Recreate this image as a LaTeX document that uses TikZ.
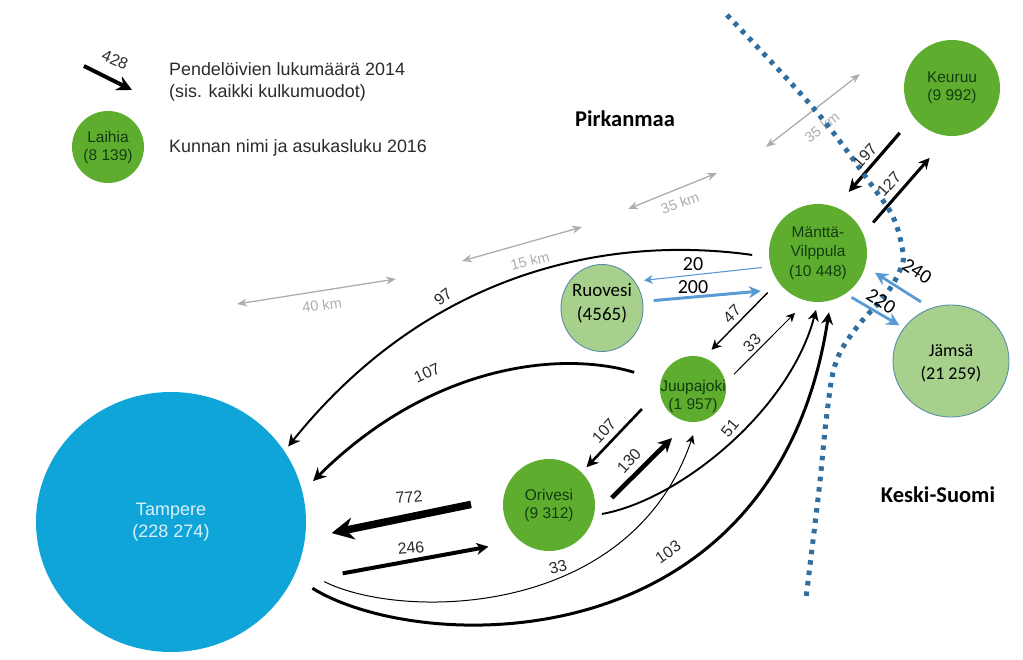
\documentclass[tikz,border=0pt]{standalone}
\usepackage{fontspec}
\setmainfont{Liberation Sans}
\newfontfamily\calibrifont{Carlito}
\usetikzlibrary{arrows.meta,shapes.geometric}
\definecolor{towngreen}{HTML}{5FAD2E}
\definecolor{palegreen}{HTML}{A6D08C}
\definecolor{paleedge}{HTML}{5A8CA8}
\definecolor{bigblue}{HTML}{0FA5D8}
\definecolor{darktext}{HTML}{123C12}
\definecolor{flowblue}{HTML}{5B9BD5}
\definecolor{borderblue}{HTML}{2F6E9E}
\definecolor{distgray}{HTML}{ADADAD}
\definecolor{labelgray}{HTML}{2B2B2B}
\tikzset{
  town/.style={circle,fill=towngreen,inner sep=0pt,text=darktext,align=center,font=\fontsize{15.5}{18}\selectfont},
  towntext/.style={align=center,text=darktext,inner sep=0pt,font=\fontsize{15.5}{18}\selectfont},
  paletown/.style={ellipse,fill=palegreen,draw=paleedge,line width=0.9pt,inner sep=0pt},
  paletext/.style={align=center,text=black,inner sep=0pt},
  flow/.style={black,line cap=butt},
  flowb/.style={flowblue},
  lab/.style={font=\fontsize{16}{18}\selectfont,text=labelgray,inner sep=0pt},
  labb/.style={font=\calibrifont\fontsize{20}{22}\selectfont,text=black,inner sep=0pt},
  dist/.style={draw=distgray,line width=1.3pt,{Stealth[length=10pt,width=8pt]}-{Stealth[length=10pt,width=8pt]}},
  distlab/.style={font=\fontsize{14.5}{16}\selectfont,text=distgray,inner sep=0pt},
  legendtext/.style={anchor=west,font=\fontsize{17.9}{22}\selectfont,text=labelgray,inner sep=0pt,align=left},
  region/.style={font=\calibrifont\bfseries\fontsize{22.5}{26}\selectfont,text=black,inner sep=0pt},
  tip/.style={-{Stealth[length=#1,width=#1]}}
}
\begin{document}
\begin{tikzpicture}[x=1pt,y=-1pt]
\useasboundingbox (0,0) rectangle (1023,660);
% towns
\node[ellipse,fill=bigblue,minimum width=270pt,minimum height=260pt,inner sep=0pt,text=white!85!bigblue,align=center,font=\fontsize{18}{22}\selectfont] (tampere) at (171,522) {Tampere\\(228 274)};
\node[town,minimum size=92pt] (orivesi) at (549,505) {Orivesi\\(9 312)};
\node[town,minimum size=66pt,label={[towntext,yshift=-7pt]center:{Juupajoki\\(1 957)}}] (juupajoki) at (693,389) {};
\node[town,minimum size=98pt,font=\fontsize{15.5}{19.5}\selectfont] (mantta) at (818,253) {Mänttä-\\Vilppula\\(10 448)};
\node[town,minimum size=96pt] (keuruu) at (952,88) {Keuruu\\(9 992)};
\node[town,minimum size=72pt] (laihia) at (108,147) {Laihia\\(8 139)};
\node[paletown,minimum width=82pt,minimum height=87pt,label={[paletext,yshift=5pt,font=\calibrifont\fontsize{19}{24}\selectfont]center:{Ruovesi\\(4565)}}] (ruovesi) at (602,308) {};
\node[paletown,minimum width=116pt,minimum height=112pt,label={[paletext,yshift=-2pt,font=\calibrifont\fontsize{18}{23}\selectfont]center:{Jämsä\\(21 259)}}] (jamsa) at (951,361) {};
% legend
\coordinate (legA) at (84,66);
\coordinate (legB) at (132,90);
\draw[flow,line width=4pt,tip=15pt] (legA) -- (legB);
\node[lab,rotate=-23] (l428) at (115,60) {428};
\node[legendtext] (legend1) at (169,82) {Pendelöivien lukumäärä 2014\\(sis. kaikki kulkumuodot)};
\node[legendtext] (legend2) at (169,148) {Kunnan nimi ja asukasluku 2016};
% regions
\node[region] (pirkanmaa) at (625,119) {Pirkanmaa};
\node[region] (keskisuomi) at (938,495) {Keski-Suomi};
% distance arrows
\coordinate (d1a) at (237,304); \coordinate (d1b) at (396,279);
\coordinate (d2a) at (462,261); \coordinate (d2b) at (582,227);
\coordinate (d3a) at (628,209); \coordinate (d3b) at (717,173);
\coordinate (d4a) at (766,147); \coordinate (d4b) at (860,74);
\draw[dist] (d1a) -- (d1b);
\draw[dist] (d2a) -- (d2b);
\draw[dist] (d3a) -- (d3b);
\draw[dist] (d4a) -- (d4b);
\node[distlab,rotate=8] (km40) at (322,305) {40 km};
\node[distlab,rotate=14] (km15) at (530,261) {15 km};
\node[distlab,rotate=20] (km35a) at (680,203) {35 km};
\node[distlab,rotate=38] (km35b) at (822,127) {35 km};
% straight flows
\draw[flow,line width=3.2pt,tip=13pt,shorten <=21pt,shorten >=20pt] (keuruu.217) -- (mantta.69);
\draw[flow,line width=3pt,tip=11pt,shorten <=15pt,shorten >=29pt] (mantta.23.5) -- (keuruu.266);
\draw[flow,line width=1.4pt,tip=10pt,shorten <=15pt,shorten >=11pt] (mantta.216.7) -- (juupajoki.71.7);
\draw[flow,line width=1pt,tip=9pt,shorten <=12pt,shorten >=17pt] (juupajoki.11.2) -- (mantta.257.3);
\draw[flow,line width=2.6pt,tip=12pt,shorten <=26pt,shorten >=7pt] (juupajoki.182) -- (orivesi.45.9);
\draw[flow,line width=4.6pt,tip=14pt,shorten <=25pt,shorten >=23pt] (orivesi.347.8) -- (juupajoki.262.3);
\draw[flow,line width=7.5pt,tip=22pt,shorten <=33pt,shorten >=27pt] (orivesi.171.9) -- (tampere.353);
\draw[flow,line width=4pt,tip=12pt,shorten <=53pt,shorten >=32pt] (tampere.333.7) -- (orivesi.231);
% curved flows
\draw[flow,line width=2pt,tip=12pt,shorten <=17pt,shorten >=6pt] (mantta.185) .. controls (610,235) and (430,270) .. (tampere.32);
\draw[flow,line width=2.8pt,tip=13pt,shorten <=28pt,shorten >=15pt] (juupajoki.165) .. controls (560,350) and (430,365) .. (tampere.13);
\draw[flow,line width=1.9pt,tip=11pt,shorten <=8pt,shorten >=8pt] (orivesi.347) .. controls (680,500) and (790,410) .. (mantta.270);
\draw[flow,line width=1pt,tip=9pt,shorten <=30pt,shorten >=14pt] (tampere.340) .. controls (400,620) and (630,620) .. (juupajoki.278);
\draw[flow,line width=3pt,tip=12pt,shorten <=22pt,shorten >=12pt] (tampere.336) .. controls (420,655) and (775,665) .. (mantta.285);
% blue flows
\draw[flowb,line width=1.1pt,tip=9pt,shorten <=9pt,shorten >=9pt] (mantta.196.6) -- (ruovesi.39.3);
\draw[flowb,line width=3pt,tip=12pt,shorten <=10.7pt,shorten >=23.7pt] (ruovesi.9.8) -- (mantta.227);
\draw[flowb,line width=2.8pt,tip=13pt,shorten <=11.5pt,shorten >=11.5pt] (jamsa.111.4) -- (mantta.344.5);
\draw[flowb,line width=2.8pt,tip=13pt,shorten <=7pt,shorten >=5pt] (mantta.304.6) -- (jamsa.145.8);
% border
\draw[borderblue,line width=5pt,dash pattern=on 4.5pt off 6pt] plot[smooth,tension=0.6] coordinates {(727,15) (815,110) (873,187) (893,217) (902,247) (902,265) (887,293) (857,327) (836,362) (827,413) (819,490) (806,598)};
% flow labels
\node[lab,rotate=38] at (443,297) {97};
\node[lab,rotate=25] at (427,373) {107};
\node[lab,rotate=6] at (409,497) {772};
\node[lab,rotate=6] at (411,548) {246};
\node[lab,rotate=15] at (558,567) {33};
\node[lab,rotate=35] at (668,552) {103};
\node[lab,rotate=50] at (730,428) {51};
\node[lab,rotate=48] at (604,431) {107};
\node[lab,rotate=48] at (629,461) {130};
\node[lab,rotate=45] at (732,314) {47};
\node[lab,rotate=45] at (752,343) {33};
\node[lab,rotate=48] at (865,156) {197};
\node[lab,rotate=48] at (889,184) {127};
\node[labb] at (693,264) {20};
\node[labb] at (693,287) {200};
\node[labb,rotate=-33] at (917,271) {240};
\node[labb,rotate=-33] at (881,301) {220};
\end{tikzpicture}
\end{document}
